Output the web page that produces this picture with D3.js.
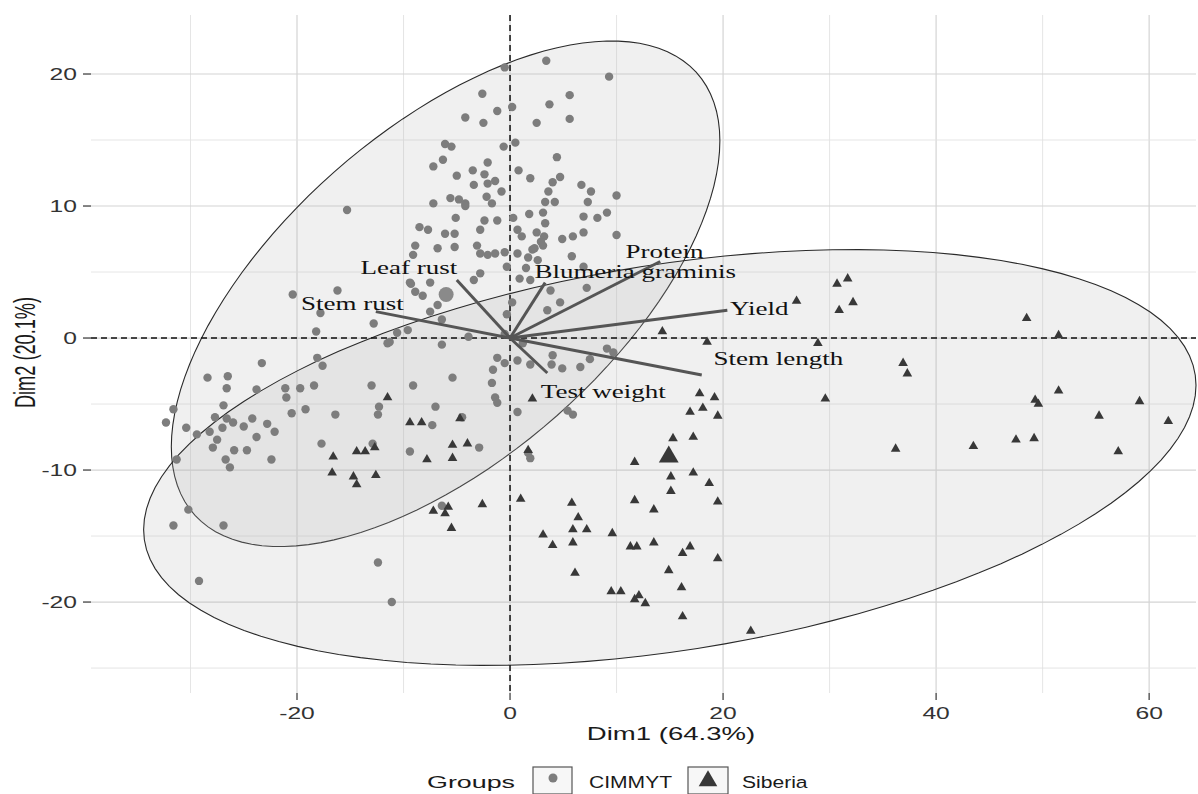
<!DOCTYPE html>
<html>
<head>
<meta charset="utf-8">
<script src="https://cdn.jsdelivr.net/npm/d3@7"></script>
<style>
  html, body { margin: 0; padding: 0; background: #fff; }
  svg { display: block; }
</style>
</head>
<body>
<svg id="chart" width="1198" height="794"></svg>
<script>
// ---------------- DATA ----------------
const groups = ["CIMMYT", "Siberia"];
const axisTitles = ["Dim1 (64.3%)", "Dim2 (20.1%)"];
const xTicks = [-20, 0, 20, 40, 60];
const yTicks = [-20, -10, 0, 10, 20];
const xGrid = [-30, -20, -10, 0, 10, 20, 30, 40, 50, 60];
const yGrid = [-25, -20, -15, -10, -5, 0, 5, 10, 15, 20];
const xDomain = [-39.34, 64.4];
const yDomain = [-26.89, 24.47];

// CIMMYT individuals [Dim1, Dim2]
const cimmytX = [-0.5,3.4,9.3,-2.6,5.6,3.7,-1.2,0.2,-4.2,-2.5,2.5,5.6,-6.1,-5.5,-0.6,0.5,-6.3,-7.2,-2.1,0.8,4.4,-5.0,-3.5,-2.4,-1.4,-2.1,-3.4,1.9,4.7,4.0,-0.8,6.7,7.6,10.0,3.6,-7.2,-5.6,-4.8,-4.2,-2.2,-1.7,3.3,4.2,7.3,-5.1,-2.4,-1.2,0.3,1.8,3.1,-2.8,-8.5,-7.7,-6.1,-5.2,-6.8,-5.2,-8.9,-3.1,0.7,1.1,2.1,-2.1,3.2,4.9,5.9,6.9,5.8,10.0,8.2,9.1,6.9,3.3,1.7,2.3,1.5,0.9,1.9,-0.3,-2.8,-1.4,-0.5,0.7,3.1,-9.1,-9.4,-7.5,-8.9,-8.2,-2.8,-3.4,3.8,7.2,0.2,3.5,4.7,-0.3,-7.5,-6.8,-6.4,-3.9,-9.6,-10.6,-11.3,-6.4,-1.2,-0.5,0.7,1.9,4.0,3.9,4.9,6.6,7.5,9.1,9.7,-1.6,-5.4,-9.1,-1.7,-1.4,-1.2,-7.0,-4.5,0.7,5.4,5.9,-7.3,-2.9,-9.4,1.7,1.9,-6.4,-20.4,-16.2,-17.8,-12.8,-18.2,-9.3,-23.3,-18.1,-17.6,-13.0,-12.3,-12.4,-16.4,-17.7,-12.9,-30.2,-31.6,-26.9,-11.5,-28.4,-26.5,-26.6,-23.8,-21.1,-19.7,-18.4,-21.0,-26.9,-31.6,-20.5,-19.2,-32.3,-30.4,-27.7,-26.6,-26.0,-25.0,-24.2,-22.8,-22.1,-28.2,-27.0,-29.4,-27.5,-23.8,-27.9,-25.9,-24.7,-26.7,-26.3,-22.4,-31.3,-29.2,-12.4,-11.1,-15.3,2.5,2.9,2.6,6.9,-4.2,-0.5,1.2];
const cimmytY = [20.5,21.0,19.8,18.5,18.4,17.7,17.2,17.5,16.7,16.3,16.3,16.6,14.7,14.5,14.5,14.8,13.5,13.0,13.3,12.7,13.7,12.3,12.7,12.4,11.9,11.7,11.6,12.1,12.2,11.8,11.1,11.6,11.1,10.8,11.1,10.2,10.6,10.5,10.2,10.7,10.2,10.3,10.3,10.3,9.1,8.9,8.9,9.1,9.4,9.5,8.2,8.4,8.2,7.9,7.9,6.8,6.9,7.0,7.0,8.2,7.7,6.7,6.3,7.7,7.5,7.7,8.0,6.2,7.8,9.1,9.5,9.2,8.7,6.1,6.8,5.3,4.5,4.4,5.4,6.4,6.4,6.5,6.4,7.0,6.3,4.2,4.2,3.5,3.2,4.9,4.4,3.6,3.8,2.7,2.1,2.7,1.8,2.0,2.5,1.4,0.1,0.6,0.4,-0.3,-0.5,-1.5,-1.9,-1.7,-2.0,-1.3,-2.0,-2.3,-2.2,-1.6,-0.8,-1.1,-2.4,-3.0,-3.6,-3.4,-4.5,-4.9,-5.2,-6.0,-5.6,-5.5,-5.8,-6.6,-8.3,-8.6,-8.7,-9.1,-12.7,3.3,3.6,1.9,1.1,0.5,4.1,-1.9,-1.5,-2.1,-3.6,-5.2,-5.8,-5.8,-8.0,-8.0,-13.0,-14.2,-14.2,-0.4,-3.0,-2.9,-3.8,-3.9,-3.8,-3.8,-3.6,-4.5,-5.1,-5.4,-5.7,-5.4,-6.4,-6.8,-6.0,-6.1,-6.4,-6.7,-6.1,-6.5,-7.1,-7.1,-6.8,-7.3,-7.7,-7.5,-8.3,-8.5,-8.5,-9.2,-9.8,-9.2,-9.2,-18.4,-17.0,-20.0,9.7,8.0,7.3,5.9,5.4,10.0,0.3,-0.4];

// Siberia individuals [Dim1, Dim2]
const siberiaX = [-11.5,-16.6,-14.4,-13.6,-12.7,-16.7,-14.7,-14.4,-12.6,-9.4,-8.3,-4.7,-5.4,-4.0,1.7,2.1,14.3,18.5,17.8,19.2,16.9,18.1,19.5,15.3,17.2,11.7,15.1,17.2,18.7,15.1,19.5,-7.8,-5.4,-7.2,-6.1,-5.8,-2.6,-5.5,1.0,5.8,6.4,5.9,7.2,3.1,4.0,5.9,9.6,11.7,13.5,11.3,11.9,13.5,16.9,16.2,19.5,6.1,14.9,16.1,9.5,10.4,12.1,11.7,12.7,16.2,22.6,31.7,30.7,26.9,32.2,30.9,48.5,51.5,28.9,36.9,37.3,29.6,51.5,49.3,49.6,59.1,55.3,61.8,36.2,43.5,47.5,49.2,57.1];
const siberiaY = [-4.5,-9.0,-8.6,-8.6,-8.3,-10.2,-10.5,-11.1,-10.4,-6.4,-6.4,-6.1,-8.1,-8.0,-8.5,-4.6,0.5,-0.3,-4.2,-4.5,-5.6,-5.3,-5.9,-7.6,-7.5,-9.4,-10.5,-10.2,-11.0,-11.6,-12.4,-9.2,-9.1,-13.1,-13.3,-12.8,-12.6,-14.4,-12.2,-12.5,-13.6,-14.5,-14.5,-14.9,-15.7,-15.5,-14.8,-12.3,-13.0,-15.8,-15.8,-15.5,-15.8,-16.3,-16.7,-17.8,-17.6,-18.9,-19.2,-19.2,-19.5,-19.8,-20.1,-21.1,-22.2,4.5,4.1,2.8,2.7,2.1,1.5,0.2,-0.4,-1.9,-2.7,-4.6,-4.0,-4.7,-5.0,-4.8,-5.9,-6.3,-8.4,-8.2,-7.7,-7.6,-8.6];

// group means [Dim1, Dim2]
const meanX = [-6.0, 14.9];
const meanY = [3.3, -9.0];

// concentration ellipses: centre, sd along Dim1, sd along Dim2, correlation
const ellCx = [-6.05, 15.0];
const ellCy = [3.35, -9.05];
const ellSx = [25.75, 49.4];
const ellSy = [19.15, 15.75];
const ellRho = [0.605, 0.347];

// variables (arrows)
const varNames = ["Stem rust", "Leaf rust", "Blumeria graminis", "Protein", "Yield", "Stem length", "Test weight"];
const varX = [-12.6, -5.0, 3.3, 14.1, 20.4, 18.0, 3.5];
const varY = [2.0, 4.4, 4.2, 5.8, 2.1, -2.8, -2.65];
const labelX = [-14.8, -9.5, 11.75, 14.5, 23.4, 25.2, 8.75];
const labelY = [2.6, 5.3, 5.0, 6.5, 2.2, -1.6, -4.1];

// ---------------- DRAWING ----------------
const W = 1198, H = 794;
const panel = { left: 91, right: 1196, top: 15, bottom: 693 };
const svg = d3.select("#chart");

const x = d3.scaleLinear().domain(xDomain).range([panel.left, panel.right]);
const y = d3.scaleLinear().domain(yDomain).range([panel.bottom, panel.top]);

const SANS = "'Liberation Sans', Arial, sans-serif";
const SERIF = "'Liberation Serif', 'Times New Roman', serif";

function sText(g, px, py, str, o) {
  const sx = o.sx || 1.5;
  return g.append("text")
    .attr("transform", `translate(${px},${py}) scale(${sx},1)`)
    .attr("text-anchor", o.anchor || "middle")
    .attr("dy", o.dy || 0)
    .style("font-family", o.family || SANS)
    .style("font-size", (o.size || 17) + "px")
    .style("fill", o.fill || "#222")
    .text(str);
}

// grid
const grid = svg.append("g");
grid.selectAll("line.vx").data(xGrid).join("line")
  .attr("x1", d => x(d)).attr("x2", d => x(d))
  .attr("y1", panel.top).attr("y2", panel.bottom)
  .attr("stroke", d => (d % 20 === 0 ? "#d4d4d4" : "#e2e2e2"))
  .attr("stroke-width", d => (d % 20 === 0 ? 1.2 : 0.9));
grid.selectAll("line.hy").data(yGrid).join("line")
  .attr("y1", d => y(d)).attr("y2", d => y(d))
  .attr("x1", panel.left).attr("x2", panel.right)
  .attr("stroke", d => (d % 10 === 0 ? "#d4d4d4" : "#e2e2e2"))
  .attr("stroke-width", d => (d % 10 === 0 ? 1.2 : 0.9));

// ellipses
const tSteps = d3.range(0, 121).map(i => i / 120 * 2 * Math.PI);
const ellLine = d3.line().x(d => x(d[0])).y(d => y(d[1])).curve(d3.curveLinearClosed);
const ellG = svg.append("g");
groups.forEach((g, i) => {
  const a = ellSx[i], r = ellRho[i];
  const l21 = r * ellSy[i], l22 = ellSy[i] * Math.sqrt(1 - r * r);
  const pts = tSteps.map(t => [ellCx[i] + a * Math.cos(t), ellCy[i] + l21 * Math.cos(t) + l22 * Math.sin(t)]);
  ellG.append("path").attr("d", ellLine(pts))
    .attr("fill", "#b8b8b8").attr("fill-opacity", 0.21)
    .attr("stroke", "#2a2a2a").attr("stroke-width", 1.1);
});

// zero lines
svg.append("line").attr("x1", x(0)).attr("x2", x(0)).attr("y1", panel.top).attr("y2", panel.bottom)
  .attr("stroke", "#111").attr("stroke-width", 1.5).attr("stroke-dasharray", "6,4");
svg.append("line").attr("y1", y(0)).attr("y2", y(0)).attr("x1", panel.left).attr("x2", panel.right)
  .attr("stroke", "#111").attr("stroke-width", 1.5).attr("stroke-dasharray", "6,4");

// points
const ptG = svg.append("g");
ptG.selectAll("circle.c").data(cimmytX.map((v, i) => [v, cimmytY[i]])).join("circle")
  .attr("cx", d => x(d[0])).attr("cy", d => y(d[1])).attr("r", 4.2)
  .attr("fill", "#7d7d7d");
const tri = d3.symbol().type(d3.symbolTriangle).size(40);
ptG.selectAll("path.s").data(siberiaX.map((v, i) => [v, siberiaY[i]])).join("path")
  .attr("d", tri).attr("transform", d => `translate(${x(d[0])},${y(d[1])})`)
  .attr("fill", "#383838");
// group means
ptG.append("circle").attr("cx", x(meanX[0])).attr("cy", y(meanY[0])).attr("r", 7.5).attr("fill", "#8a8a8a");
ptG.append("path").attr("d", d3.symbol().type(d3.symbolTriangle).size(170))
  .attr("transform", `translate(${x(meanX[1])},${y(meanY[1])})`).attr("fill", "#383838");

// arrows
const arrG = svg.append("g");
varNames.forEach((n, i) => {
  arrG.append("line").attr("x1", x(0)).attr("y1", y(0)).attr("x2", x(varX[i])).attr("y2", y(varY[i]))
    .attr("stroke", "#555").attr("stroke-width", 3);
});
varNames.forEach((n, i) => {
  sText(arrG, x(labelX[i]), y(labelY[i]), n, { family: SERIF, size: 18, sx: 1.5, dy: "0.33em", fill: "#111" });
});

// axes ticks
const axG = svg.append("g");
axG.selectAll("line.xt").data(xTicks).join("line")
  .attr("x1", d => x(d)).attr("x2", d => x(d)).attr("y1", panel.bottom).attr("y2", panel.bottom + 7)
  .attr("stroke", "#333").attr("stroke-width", 1.2);
xTicks.forEach(t => sText(axG, x(t), 719, String(t), { size: 17, sx: 1.45, fill: "#333" }));
axG.selectAll("line.yt").data(yTicks).join("line")
  .attr("y1", d => y(d)).attr("y2", d => y(d)).attr("x1", panel.left - 8).attr("x2", panel.left)
  .attr("stroke", "#333").attr("stroke-width", 1.2);
yTicks.forEach(t => sText(axG, 77, y(t), String(t), { size: 17, sx: 1.45, anchor: "end", dy: "0.36em", fill: "#333" }));

// axis titles
sText(axG, 671, 740, axisTitles[0], { size: 19, sx: 1.45, fill: "#1a1a1a" });
axG.append("text")
  .attr("transform", `translate(35,352.5) rotate(-90) scale(1,1.65)`)
  .attr("text-anchor", "middle")
  .style("font-family", SANS).style("font-size", "18.2px").style("fill", "#1a1a1a")
  .text(axisTitles[1]);

// legend
const lg = svg.append("g");
sText(lg, 427, 788, "Groups", { size: 17, sx: 1.58, anchor: "start", fill: "#1a1a1a" });
lg.append("rect").attr("x", 533).attr("y", 767).attr("width", 39).attr("height", 27)
  .attr("fill", "#f7f7f7").attr("stroke", "#555").attr("stroke-width", 1.2);
lg.append("circle").attr("cx", 553).attr("cy", 778).attr("r", 4.5).attr("fill", "#7d7d7d");
sText(lg, 589, 788, groups[0], { size: 17, sx: 1.24, anchor: "start", fill: "#1a1a1a" });
lg.append("rect").attr("x", 688).attr("y", 767).attr("width", 40).attr("height", 27)
  .attr("fill", "#f7f7f7").attr("stroke", "#555").attr("stroke-width", 1.2);
lg.append("path").attr("d", d3.symbol().type(d3.symbolTriangle).size(150))
  .attr("transform", "translate(708,781)").attr("fill", "#383838");
sText(lg, 742, 788, groups[1], { size: 17, sx: 1.24, anchor: "start", fill: "#1a1a1a" });
</script>
</body>
</html>
